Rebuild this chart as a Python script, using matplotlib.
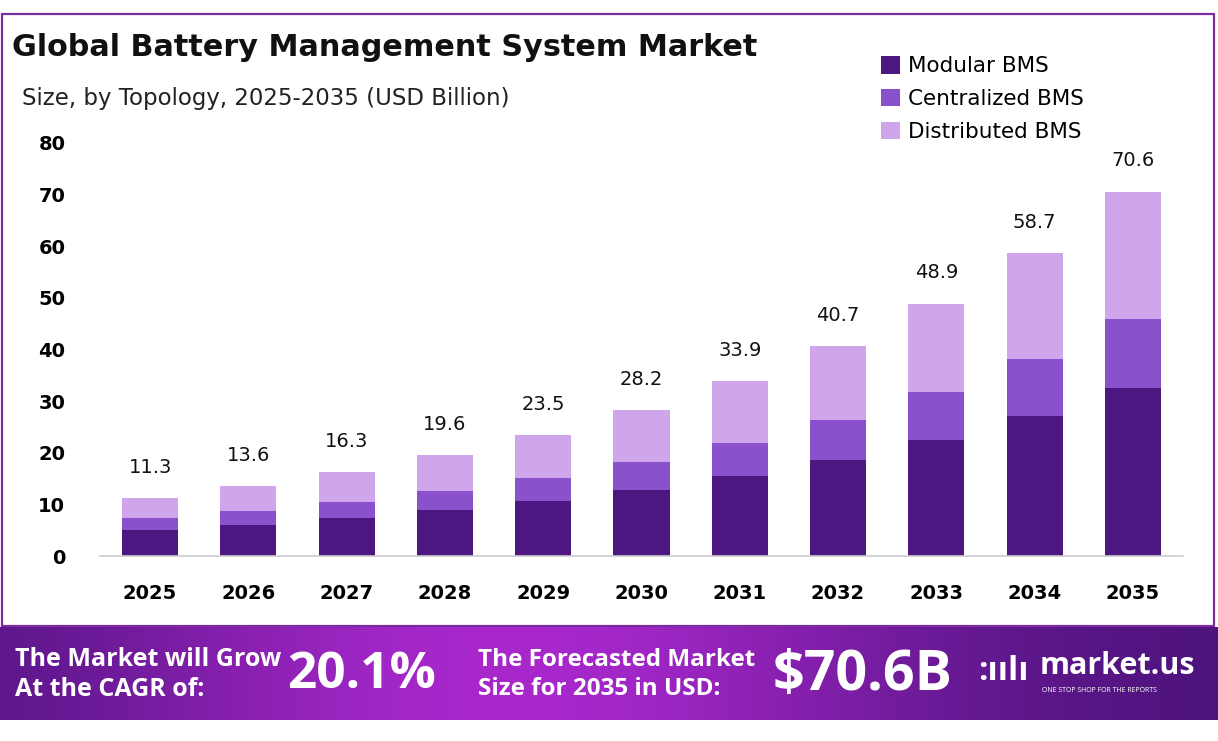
import numpy as np
import matplotlib
matplotlib.use("Agg")
import matplotlib.pyplot as plt
from matplotlib.patches import Rectangle

plt.rcParams['font.family'] = ['DejaVu Sans']

years = ['2025', '2026', '2027', '2028', '2029', '2030', '2031', '2032', '2033', '2034', '2035']
modular = [5.1, 6.1, 7.4, 8.9, 10.7, 12.8, 15.5, 18.6, 22.5, 27.1, 32.6]
centralized = [2.2, 2.6, 3.1, 3.7, 4.4, 5.4, 6.4, 7.8, 9.3, 11.1, 13.3]
distributed = [4.0, 4.9, 5.8, 7.0, 8.4, 10.0, 12.0, 14.3, 17.1, 20.5, 24.7]
totals = [11.3, 13.6, 16.3, 19.6, 23.5, 28.2, 33.9, 40.7, 48.9, 58.7, 70.6]
series_names = ['Modular BMS', 'Centralized BMS', 'Distributed BMS']
colors = ['#4E1681', '#8B50CC', '#CFA6EB']

W, H = 1218, 741
fig = plt.figure(figsize=(W / 100, H / 100), dpi=100)

# purple frame around the chart part
frame = Rectangle((2 / W, 1 - 626 / H), 1212 / W, 612 / H, transform=fig.transFigure,
                  fill=False, edgecolor='#7B2D9E', linewidth=1.6)
fig.add_artist(frame)

ax = fig.add_axes([100 / W, 1 - 556 / H, 1083 / W, 413 / H])
x = np.arange(len(years))
bw = 0.57
b1 = ax.bar(x, modular, bw, color=colors[0], label=series_names[0])
b2 = ax.bar(x, centralized, bw, bottom=modular, color=colors[1], label=series_names[1])
bottom2 = np.array(modular) + np.array(centralized)
b3 = ax.bar(x, distributed, bw, bottom=bottom2, color=colors[2], label=series_names[2])

for xi, t in zip(x, totals):
    ax.annotate(f'{t}', (xi, t), xytext=(0, 22), textcoords='offset points',
                ha='center', va='center', fontsize=14, color='#111111')

ax.set_xlim(-0.51, 10.51)
ax.set_ylim(0, 80)
ax.set_xticks(x)
ax.set_xticklabels(years, fontsize=14, fontweight='bold')
ax.set_yticks(range(0, 81, 10))
ax.set_yticklabels([str(v) for v in range(0, 81, 10)], fontsize=14, fontweight='bold')
ax.tick_params(axis='x', length=0, pad=20)
ax.tick_params(axis='y', length=0, pad=25)
for s in ['top', 'right', 'left']:
    ax.spines[s].set_visible(False)
ax.spines['bottom'].set_color('#cccccc')
ax.spines['bottom'].set_linewidth(1.2)

fig.text(12 / W, 1 - 47 / H, 'Global Battery Management System Market', fontsize=21.8,
         fontweight='bold', va='center', ha='left', color='#111111')
fig.text(22 / W, 1 - 98 / H, 'Size, by Topology, 2025-2035 (USD Billion)', fontsize=16.5,
         va='center', ha='left', color='#222222')

leg = fig.legend(handles=[b1, b2, b3], loc='upper left', bbox_to_anchor=(862 / W, 1 - 37 / H),
                 frameon=False, fontsize=15.5, handlelength=0.85, handleheight=0.85,
                 handletextpad=0.4, labelspacing=0.6)

# bottom banner with gradient
bax = fig.add_axes([0, 1 - 720 / H, 1, 93 / H])
grad = np.linspace(0, 1, 400)
prof = np.exp(-((grad - 0.42) / 0.35) ** 2)
c0 = np.array([0x48, 0x12, 0x78]) / 255
c1 = np.array([0xA8, 0x28, 0xCC]) / 255
img = c0[None, :] + (c1 - c0)[None, :] * prof[:, None]
bax.imshow(img[None, :, :], aspect='auto', extent=[0, 1, 0, 1])
bax.set_xlim(0, 1)
bax.set_ylim(0, 1)
bax.axis('off')

bf = ['Open Sans', 'DejaVu Sans']
bax.text(15 / W, 0.65, 'The Market will Grow', fontsize=18, fontweight='bold', color='white',
         va='center', family=bf)
bax.text(15 / W, 0.33, 'At the CAGR of:', fontsize=18, fontweight='bold', color='white',
         va='center', family=bf)
bax.text(287 / W, 0.48, '20.1%', fontsize=37, fontweight='bold', color='white', va='center', family=bf)
bax.text(478 / W, 0.65, 'The Forecasted Market', fontsize=17.5, fontweight='bold', color='white',
         va='center', family=bf)
bax.text(478 / W, 0.33, 'Size for 2035 in USD:', fontsize=17.5, fontweight='bold', color='white',
         va='center', family=bf)
bax.text(773 / W, 0.48, '$70.6B', fontsize=40, fontweight='bold', color='white', va='center', family=bf)
bax.text(978 / W, 0.52, ':ıılı', fontsize=24, fontweight='bold', color='white', va='center', family=bf)
bax.text(1040 / W, 0.58, 'market.us', fontsize=22, fontweight='bold', color='white', va='center', family=bf)
bax.text(1042 / W, 0.32, 'ONE STOP SHOP FOR THE REPORTS', fontsize=5, color='white', va='center', family=bf)

fig.savefig('out.png', dpi=100)
